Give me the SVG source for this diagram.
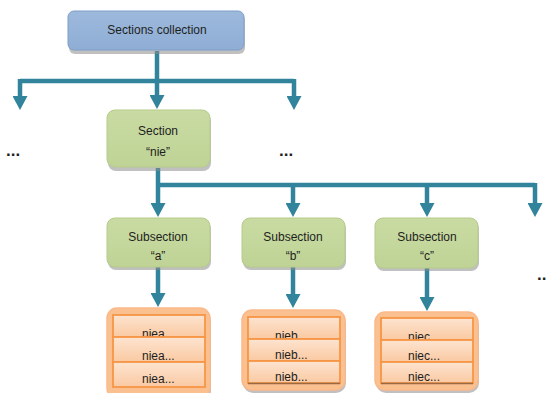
<svg xmlns="http://www.w3.org/2000/svg" width="548" height="393" viewBox="0 0 548 393">
<defs>
<linearGradient id="gBlue" x1="0" y1="0" x2="0" y2="1"><stop offset="0" stop-color="#9DB9DC"/><stop offset="1" stop-color="#8FAED5"/></linearGradient>
<linearGradient id="gGreen" x1="0" y1="0" x2="0" y2="1"><stop offset="0" stop-color="#C9DBA2"/><stop offset="1" stop-color="#BFD396"/></linearGradient>
<linearGradient id="gRow" x1="0" y1="0" x2="0" y2="1"><stop offset="0" stop-color="#FDE4D0"/><stop offset="1" stop-color="#FAC9A2"/></linearGradient>
<marker id="ah" markerUnits="userSpaceOnUse" markerWidth="16" markerHeight="15" refX="0" refY="7.5" orient="auto" viewBox="0 0 16 15"><path d="M0,0 L14,7.5 L0,15 Z" fill="#31849B"/></marker>
</defs>
<style>
.sh{fill:#8C8C8C;opacity:0.55}
.blue{fill:url(#gBlue);stroke:#7F9EC6;stroke-width:1}
.green{fill:url(#gGreen);stroke:#B5CB8A;stroke-width:1}
.outer{fill:#FAC090;stroke:#FBB98A;stroke-width:1.5}
.row{fill:url(#gRow);stroke:#F79646;stroke-width:1.8}
.t{font-family:"Liberation Sans",Arial,sans-serif;font-size:12px;fill:#1E1E1E}
.c{text-anchor:middle}
.ln{fill:none;stroke:#31849B;stroke-width:4.5}
.dots{font-family:"Liberation Sans",Arial,sans-serif;font-size:17px;font-weight:bold;fill:#1E1E1E}
</style>

<g id="connectors">
<path class="ln" d="M157,51 V81"/>
<path class="ln" d="M20,81 H294"/>
<path class="ln" d="M20,79 V96" marker-end="url(#ah)"/>
<path class="ln" d="M157,81 V95" marker-end="url(#ah)"/>
<path class="ln" d="M294,79 V96" marker-end="url(#ah)"/>
<path class="ln" d="M158,168 V185"/>
<path class="ln" d="M158,185 H535"/>
<path class="ln" d="M158,185 V203" marker-end="url(#ah)"/>
<path class="ln" d="M293,185 V203" marker-end="url(#ah)"/>
<path class="ln" d="M427,185 V203" marker-end="url(#ah)"/>
<path class="ln" d="M535,183 V203" marker-end="url(#ah)"/>
<path class="ln" d="M158,267 V293" marker-end="url(#ah)"/>
<path class="ln" d="M293,267 V294" marker-end="url(#ah)"/>
<path class="ln" d="M427,268 V297" marker-end="url(#ah)"/>
</g>

<g id="sections-collection">
<rect class="sh" x="69" y="14" width="176" height="40" rx="6"/>
<rect class="blue" x="68" y="11" width="176" height="39" rx="6"/>
<text class="t c" x="157" y="34">Sections collection</text>
</g>

<g id="dots-left"><text class="dots" x="6" y="156">...</text></g>
<g id="dots-mid"><text class="dots" x="279" y="156">...</text></g>
<g id="dots-right"><text class="dots" x="537" y="280">..</text></g>

<g id="section-nie">
<rect class="sh" x="108" y="113" width="103" height="58" rx="8"/>
<rect class="green" x="107" y="110" width="103" height="57" rx="8"/>
<text class="t c" x="158" y="135">Section</text>
<text class="t c" x="158" y="156">“nie”</text>
</g>

<g id="subsection-a">
<rect class="sh" x="108" y="221" width="103" height="49" rx="8"/>
<rect class="green" x="107" y="218" width="103" height="49" rx="8"/>
<text class="t c" x="158" y="241">Subsection</text>
<text class="t c" x="158" y="260">“a”</text>
</g>
<g id="subsection-b">
<rect class="sh" x="243" y="221" width="103" height="49" rx="8"/>
<rect class="green" x="242" y="218" width="103" height="49" rx="8"/>
<text class="t c" x="293" y="241">Subsection</text>
<text class="t c" x="293" y="260">“b”</text>
</g>
<g id="subsection-c">
<rect class="sh" x="376" y="221" width="103" height="50" rx="8"/>
<rect class="green" x="375" y="218" width="103" height="50" rx="8"/>
<text class="t c" x="427" y="241">Subsection</text>
<text class="t c" x="427" y="260">“c”</text>
</g>

<g id="items-a">
<rect class="sh" x="108" y="311" width="103" height="90" rx="10"/>
<rect class="outer" x="107" y="308" width="103" height="90" rx="10"/>
<rect class="row" x="113" y="315" width="92" height="22"/>
<text class="t" x="142" y="338">niea</text>
<rect class="row" x="113" y="337" width="92" height="25"/>
<text class="t" x="142" y="360">niea...</text>
<rect class="row" x="113" y="362" width="92" height="25"/>
<text class="t" x="142" y="383">niea...</text>
</g>
<g id="items-b">
<rect class="sh" x="243" y="313" width="103" height="80" rx="10"/>
<rect class="outer" x="242" y="310" width="103" height="80" rx="10"/>
<rect class="row" x="248" y="317" width="92" height="22"/>
<text class="t" x="275" y="340">nieb</text>
<rect class="row" x="248" y="339" width="92" height="22"/>
<text class="t" x="275" y="359">nieb...</text>
<rect class="row" x="248" y="361" width="92" height="22"/>
<text class="t" x="275" y="381">nieb...</text>
<path d="M248,383.5 H340" stroke="#9A6A45" stroke-width="1.5"/>
</g>
<g id="items-c">
<rect class="sh" x="376" y="315" width="103" height="78" rx="10"/>
<rect class="outer" x="375" y="312" width="103" height="78" rx="10"/>
<rect class="row" x="381" y="318" width="92" height="22"/>
<text class="t" x="408" y="341">niec</text>
<rect class="row" x="381" y="340" width="92" height="22"/>
<text class="t" x="408" y="360">niec...</text>
<rect class="row" x="381" y="362" width="92" height="21"/>
<text class="t" x="408" y="381">niec...</text>
<path d="M381,383.5 H473" stroke="#9A6A45" stroke-width="1.5"/>
</g>
</svg>
